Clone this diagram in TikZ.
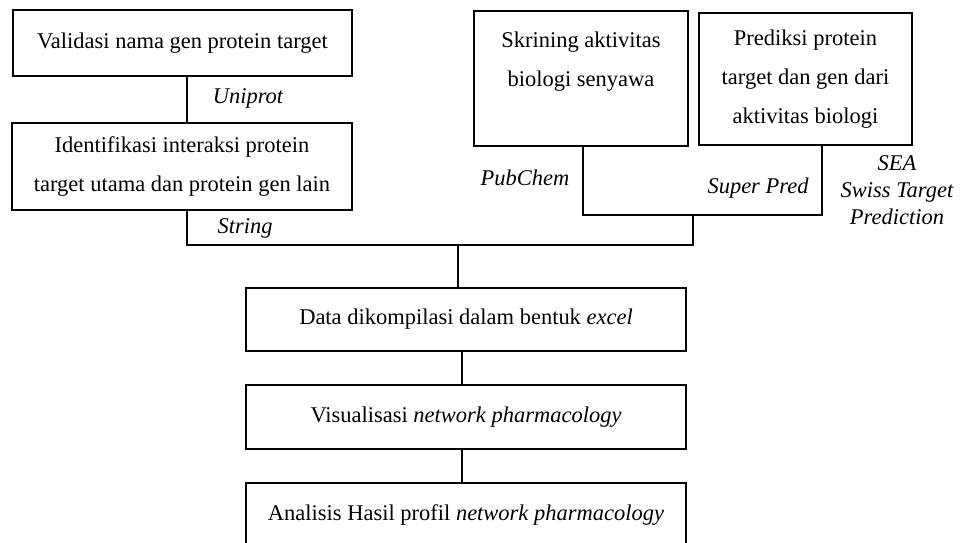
\documentclass[tikz,border=0pt]{standalone}
\usepackage{fontspec}
\setmainfont{Liberation Serif}
\usepackage{tikz}
\usetikzlibrary{calc,positioning}

\tikzset{
    stage/.style={draw, line width=1pt, align=center, inner sep=0pt,
        font=\fontsize{12.8}{22}\selectfont},
    tool/.style={align=center, inner sep=0pt,
        font=\fontsize{12.8}{15.3}\selectfont\itshape}
}

\begin{document}
\begin{tikzpicture}[x=0.02cm, y=-0.02cm]
                        \clip (0, 0) rectangle (962, 543);
                        % left column
                        \node[stage, minimum width=6.78cm, minimum height=1.32cm] (valid) at (182.5, 43) {Validasi nama gen protein target};
                        \node[stage, minimum width=6.8cm, minimum height=1.74cm] (ident) at (182, 166.5) {Identifikasi interaksi protein\\target utama dan protein gen lain};
                        % right column
                        \node[stage, minimum width=4.28cm, minimum height=2.7cm] (skrin) at (581, 78.5) {Skrining aktivitas\\biologi senyawa\\~};
                        \node[stage, minimum width=4.26cm, minimum height=2.64cm] (predik) at (805.5, 79) {Prediksi protein\\target dan gen dari\\aktivitas biologi};
                        % main chain
                        \node[stage, minimum width=8.8cm, minimum height=1.27cm] (data) at (466, 319.5) {Data dikompilasi dalam bentuk \textit{excel}};
                        \node[stage, minimum width=8.8cm, minimum height=1.27cm] (visual) at (466, 417) {Visualisasi \textit{network pharmacology}};
                        \node[stage, minimum width=8.8cm, minimum height=1.27cm] (analisis) at (466, 515) {Analisis Hasil profil \textit{network pharmacology}};
                        % tools
                        \node[tool] (uniprot) at (248, 98) {Uniprot};
                        \node[tool] (string) at (245, 228) {String};
                        \node[tool] (pubchem) at (525, 178) {PubChem};
                        \node[tool] (superpred) at (758, 188) {Super Pred};
                        \node[tool] (sea) at (897, 190) {SEA\\Swiss Target\\Prediction};
                        % joints
                        \coordinate (jl) at (187, 245);
                        \coordinate (jr) at (693, 245);
                        \coordinate (jt) at (693, 215);
                        \coordinate (bl) at (583, 215);
                        \coordinate (br) at (822, 215);
                        \coordinate (jm) at (458, 245);
                        \coordinate (jc) at (462, 0);
                        \draw[line width=1.4pt]
                        (jl |- valid.south) -- (jl |- ident.north)
                        (jl |- ident.south) -- (jl) -- (jr) -- (jt)
                        (bl |- skrin.south) -- (bl) -- (br) -- (br |- predik.south)
                        (jm) -- (jm |- data.north)
                        (jc |- data.south) -- (jc |- visual.north)
                        (jc |- visual.south) -- (jc |- analisis.north);
                    \end{tikzpicture}
\end{document}
